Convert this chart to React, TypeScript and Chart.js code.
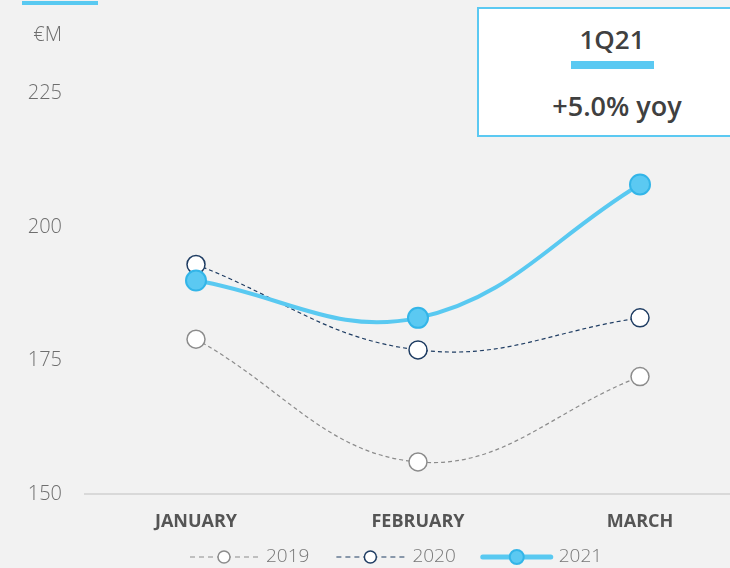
import React, { useEffect, useRef } from 'react';
import { Chart, registerables } from 'chart.js';
Chart.register(...registerables);

const months = ['JANUARY', 'FEBRUARY', 'MARCH'];
const years = ['2019', '2020', '2021'];
const values2019 = [179, 156, 172];
const values2020 = [193, 177, 183];
const values2021 = [190, 183, 208];
const yTicks = [150, 175, 200, 225];
const yMin = 150;
const yMax = 236;
const unitLabel = '€M';
const quarterLabel = '1Q21';
const growthLabel = '+5.0% yoy';

const CYAN = '#59c9f1';
const FONT = '"Open Sans", "Noto Sans", sans-serif';

const legendPlugin = {
  id: 'customLegend',
  afterDraw(chart: any) {
    const ctx = chart.ctx;
    const y = 557;
    let x = 190;
    chart.data.datasets.forEach((ds: any) => {
      const lineW = 68;
      ctx.save();
      ctx.strokeStyle = ds.borderColor;
      ctx.lineWidth = ds.legendLineWidth;
      ctx.setLineDash(ds.borderDash ? [5, 4] : []);
      ctx.lineCap = ds.borderDash ? 'butt' : 'round';
      ctx.beginPath();
      ctx.moveTo(x, y);
      ctx.lineTo(x + lineW, y);
      ctx.stroke();
      ctx.setLineDash([]);
      ctx.beginPath();
      ctx.arc(x + lineW / 2, y, ds.legendRadius, 0, Math.PI * 2);
      ctx.fillStyle = ds.pointBackgroundColor;
      ctx.fill();
      ctx.lineWidth = ds.pointBorderWidth;
      ctx.strokeStyle = ds.pointBorderColor;
      ctx.stroke();
      ctx.font = '300 19px ' + FONT;
      ctx.fillStyle = '#777777';
      ctx.textBaseline = 'middle';
      ctx.textAlign = 'left';
      ctx.fillText(ds.label, x + lineW + 8, y);
      const tw = ctx.measureText(ds.label).width;
      ctx.restore();
      x += lineW + 8 + tw + 27;
    });
  },
};

export default function App() {
  const ref = useRef<HTMLCanvasElement>(null);
  useEffect(() => {
    if (!ref.current) return;
    const chart = new Chart(ref.current, {
      type: 'line',
      data: {
        labels: months,
        datasets: [
          {
            label: years[0],
            data: values2019,
            borderColor: '#8c8c8c',
            borderWidth: 1.2,
            borderDash: [4, 3],
            pointRadius: 9,
            pointHoverRadius: 9,
            pointBackgroundColor: '#ffffff',
            pointBorderColor: '#8c8c8c',
            pointBorderWidth: 1.5,
            tension: 0.4,
            order: 2,
            legendLineWidth: 1.2,
            legendRadius: 6,
          } as any,
          {
            label: years[1],
            data: values2020,
            borderColor: '#1f3d63',
            borderWidth: 1.2,
            borderDash: [4, 3],
            pointRadius: 9,
            pointHoverRadius: 9,
            pointBackgroundColor: '#ffffff',
            pointBorderColor: '#1f3d63',
            pointBorderWidth: 1.5,
            tension: 0.4,
            order: 1,
            legendLineWidth: 1.2,
            legendRadius: 6,
          } as any,
          {
            label: years[2],
            data: values2021,
            borderColor: CYAN,
            borderWidth: 4,
            pointRadius: 10,
            pointHoverRadius: 10,
            pointBackgroundColor: '#5bc9f2',
            pointBorderColor: '#33b5e8',
            pointBorderWidth: 2,
            tension: 0.4,
            order: 0,
            legendLineWidth: 5,
            legendRadius: 7,
          } as any,
        ],
      },
      options: {
        animation: false,
        responsive: false,
        maintainAspectRatio: false,
        layout: { padding: { top: 32, right: 19, left: 0, bottom: 0 } },
        plugins: { legend: { display: false }, tooltip: { enabled: false } },
        scales: {
          x: {
            offset: true,
            grid: { display: false, drawTicks: false },
            border: { display: true, color: '#d9d9d9', width: 2 },
            ticks: {
              padding: 17,
              color: '#555555',
              font: { family: FONT, size: 18, weight: 'bold' as any },
            },
            afterFit: (scale: any) => {
              scale.height = 74;
            },
          },
          y: {
            min: yMin,
            max: yMax,
            grid: { display: false, drawTicks: false },
            border: { display: false },
            afterBuildTicks: (scale: any) => {
              scale.ticks = [...yTicks, yMax].map((v) => ({ value: v }));
            },
            ticks: {
              padding: 23,
              color: '#6e6e6e',
              font: { family: FONT, size: 20, weight: '300' as any },
              callback: (v: any) => (v === yMax ? unitLabel : String(v)),
            },
            afterFit: (scale: any) => {
              scale.width = 85;
            },
          },
        },
      },
      plugins: [legendPlugin],
    });
    return () => chart.destroy();
  }, []);

  return (
    <div style={{ position: 'fixed', left: 0, top: 0, width: 730, height: 568, overflow: 'hidden', background: '#f2f2f2', fontFamily: FONT }}>
      <canvas ref={ref} width={770} height={568} style={{ position: 'absolute', left: 0, top: 0, width: 770, height: 568 }} />
      <div style={{ position: 'absolute', left: 22, top: 1, width: 76, height: 4, background: CYAN }} />
      <div style={{ position: 'absolute', left: 477, top: 7, width: 270, height: 130, boxSizing: 'border-box', border: '2px solid #5bc9f2', background: '#ffffff' }}>
        <div style={{ position: 'absolute', left: 0, width: 266, top: 15, lineHeight: '30px', textAlign: 'center', fontSize: 26, fontWeight: 600, color: '#404040' }}>{quarterLabel}</div>
        <div style={{ position: 'absolute', left: 92, top: 52, width: 83, height: 8, background: '#5bc9f2' }} />
        <div style={{ position: 'absolute', left: 5, width: 266, top: 82, lineHeight: '30px', textAlign: 'center', fontSize: 27, fontWeight: 600, color: '#404040' }}>{growthLabel}</div>
      </div>
    </div>
  );
}
